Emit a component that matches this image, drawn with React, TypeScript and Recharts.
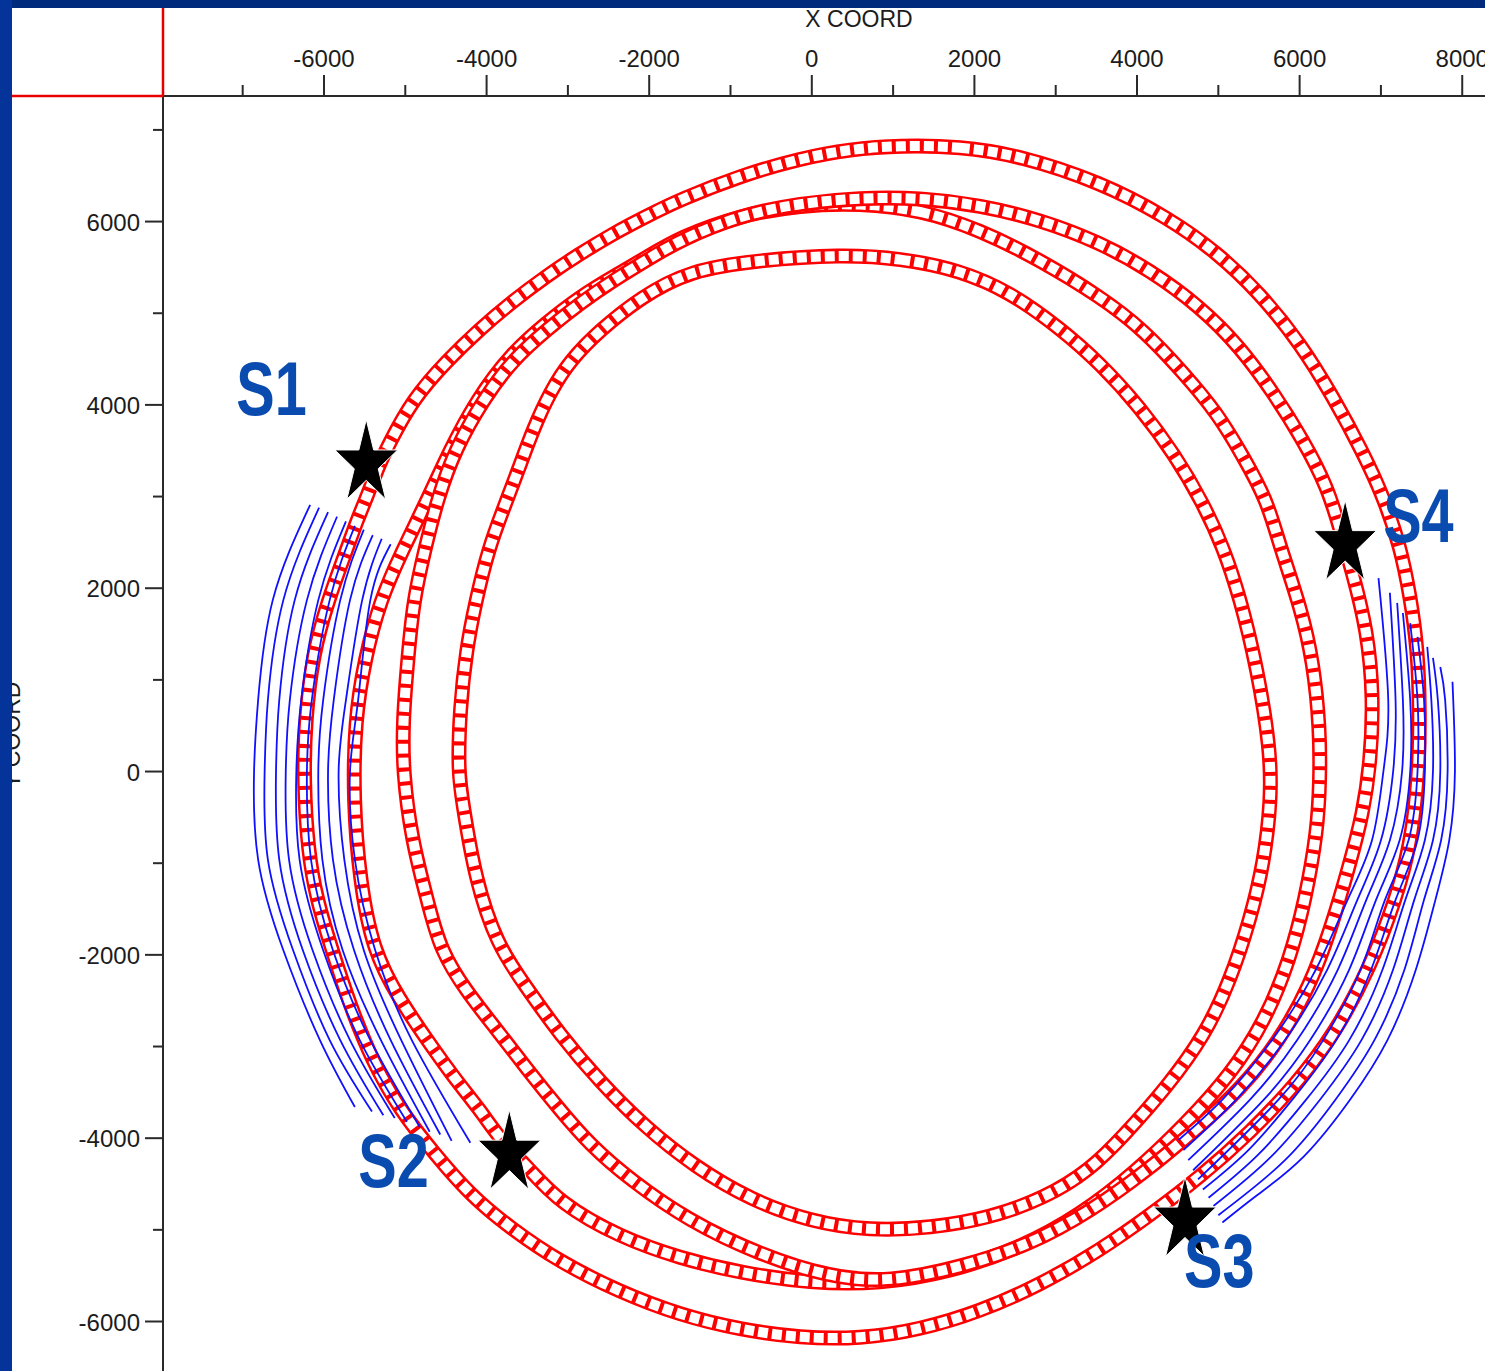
import React from "react";
import { ScatterChart, Scatter, XAxis, YAxis } from "recharts";

type Pt = [number, number];

const xTicks = [-7000, -6000, -5000, -4000, -3000, -2000, -1000, 0, 1000, 2000, 3000, 4000, 5000, 6000, 7000, 8000];
const yTicks = [-6000, -5000, -4000, -3000, -2000, -1000, 0, 1000, 2000, 3000, 4000, 5000, 6000, 7000];

// receiver rings (red squares), clockwise from the top
const outerRing: Pt[] = [
  [1090, 6830], [1820, 6820], [2560, 6720], [3550, 6430], [4370, 6050], [4990, 5660], [5520, 5210], [6010, 4670],
  [6410, 4090], [6780, 3480], [7030, 3000], [7240, 2450], [7360, 1910], [7450, 1360], [7480, 640], [7460, -90],
  [7360, -820], [7180, -1400], [6870, -2130], [6440, -2850], [5950, -3420], [5390, -3940], [4780, -4420], [4160, -4840],
  [3550, -5220], [2810, -5600], [2070, -5890], [1330, -6090], [590, -6190], [-140, -6180], [-880, -6090], [-1620, -5930],
  [-2360, -5680], [-3100, -5350], [-3710, -4980], [-4200, -4620], [-4630, -4180], [-5070, -3690], [-5410, -3150], [-5680, -2550],
  [-5900, -1950], [-6090, -1400], [-6200, -850], [-6250, -90], [-6230, 560], [-6140, 1270], [-5950, 1870], [-5720, 2420],
  [-5590, 2750], [-5470, 3000], [-5350, 3290], [-5210, 3560], [-4910, 4060], [-4490, 4480], [-4080, 4830], [-3680, 5130],
  [-3260, 5410], [-2850, 5650], [-2440, 5870], [-2030, 6060], [-1620, 6240], [-880, 6500], [-140, 6690], [470, 6790],
];

const westRing: Pt[] = [
  [590, 6200], [1330, 6130], [2070, 5910], [2810, 5580], [3550, 5180], [4080, 4820], [4570, 4350], [4990, 3910],
  [5310, 3430], [5600, 2960], [5760, 2450], [6010, 1800], [6170, 1190], [6250, 450], [6250, -90], [6220, -640],
  [6070, -1400], [5880, -2050], [5580, -2710], [5150, -3310], [4590, -3850], [3980, -4370], [3300, -4840], [2560, -5200],
  [1700, -5460], [840, -5590], [-20, -5580], [-880, -5470], [-1620, -5310], [-2360, -5080], [-3100, -4710], [-3500, -4310],
  [-3830, -4020], [-4080, -3690], [-4410, -3330], [-4730, -2930], [-5070, -2490], [-5400, -1950], [-5560, -1180], [-5640, -310],
  [-5620, 560], [-5500, 1220], [-5310, 1870], [-5030, 2420], [-4730, 2960], [-4450, 3510], [-4120, 4060], [-3700, 4560],
  [-3260, 4900], [-2850, 5180], [-2440, 5400], [-2030, 5610], [-1620, 5830], [-880, 6070], [-140, 6180],
];

const eastRing: Pt[] = [
  [590, 6260], [1330, 6260], [2070, 6180], [2810, 6020], [3550, 5770], [4160, 5470], [4780, 5070], [5270, 4630],
  [5680, 4130], [6040, 3620], [6340, 3110], [6500, 2640], [6650, 2170], [6830, 1550], [6910, 810], [6870, 90],
  [6780, -450], [6620, -1000], [6380, -1730], [6130, -2330], [5760, -2930], [5270, -3470], [4720, -3910], [4100, -4370],
  [3420, -4800], [2690, -5160], [1820, -5410], [960, -5570], [230, -5520], [-640, -5270], [-1500, -4910], [-2240, -4450],
  [-2730, -4070], [-3100, -3690], [-3500, -3250], [-3870, -2820], [-4240, -2410], [-4570, -1950], [-4730, -1400], [-4920, -750],
  [-5030, 0], [-5030, 560], [-4970, 1220], [-4900, 1870], [-4760, 2420], [-4610, 2960], [-4390, 3510], [-4040, 4060],
  [-3680, 4490], [-3260, 4820], [-2850, 5110], [-2440, 5360], [-2030, 5580], [-1620, 5800], [-880, 6070], [-140, 6200],
];

const innerRing: Pt[] = [
  [350, 5640], [1090, 5600], [1820, 5470], [2440, 5230], [3050, 4840], [3550, 4450], [4040, 3970], [4470, 3450],
  [4810, 2930], [5060, 2450], [5270, 1890], [5480, 1120], [5640, 240], [5650, -310], [5560, -1000], [5390, -1620],
  [5150, -2270], [4840, -2870], [4370, -3440], [3850, -3960], [3420, -4350], [2870, -4650], [2190, -4870], [1460, -4980],
  [720, -5010], [-20, -4910], [-760, -4670], [-1440, -4310], [-2050, -3880], [-2600, -3390], [-3100, -2870], [-3530, -2330],
  [-3870, -1890], [-4140, -1180], [-4300, -310], [-4350, 0], [-4330, 670], [-4250, 1330], [-4130, 1870], [-3980, 2420],
  [-3800, 2850], [-3610, 3290], [-3430, 3730], [-3220, 4140], [-2970, 4490], [-2600, 4820], [-2110, 5170], [-1500, 5470],
  [-640, 5580],
];

// ray arcs (blue), west group outer -> inner
const westArcs: Pt[][] = [
  [[-6170, 2910], [-6630, 1870], [-6810, 780], [-6860, 0], [-6810, -960], [-6500, -1950], [-6050, -2930], [-5620, -3660]],
  [[-6060, 2880], [-6500, 1870], [-6690, 780], [-6730, 0], [-6690, -960], [-6380, -1950], [-5930, -2930], [-5410, -3710]],
  [[-5950, 2830], [-6360, 1870], [-6550, 780], [-6590, 0], [-6550, -960], [-6260, -1950], [-5800, -2930], [-5270, -3750]],
  [[-5840, 2780], [-6210, 1870], [-6420, 780], [-6470, 0], [-6430, -960], [-6140, -1950], [-5680, -2930], [-5130, -3780]],
  [[-5730, 2730], [-6070, 1870], [-6280, 780], [-6340, 0], [-6300, -960], [-6010, -1950], [-5560, -2930], [-4980, -3820]],
  [[-5620, 2680], [-5930, 1870], [-6150, 780], [-6210, 0], [-6160, -960], [-5890, -1950], [-5430, -2930], [-4820, -3880]],
  [[-5510, 2640], [-5800, 1870], [-6010, 780], [-6070, 0], [-6020, -960], [-5770, -1950], [-5300, -2930], [-4700, -3930]],
  [[-5400, 2580], [-5680, 1870], [-5880, 780], [-5950, 0], [-5890, -960], [-5630, -1950], [-5180, -2930], [-4570, -3960]],
  [[-5290, 2540], [-5530, 1870], [-5730, 780], [-5820, 0], [-5750, -960], [-5510, -1950], [-5050, -2930], [-4430, -4030]],
  [[-5180, 2480], [-5430, 1870], [-5580, 780], [-5680, 0], [-5620, -960], [-5370, -1950], [-4920, -2930], [-4200, -4050]],
];

// east group inner -> outer
const eastArcs: Pt[][] = [
  [[6970, 2110], [7090, 780], [7030, 0], [6890, -750], [6590, -1400], [6200, -2160], [5660, -2930], [5050, -3580], [4510, -4020]],
  [[7110, 1950], [7180, 780], [7150, 0], [7000, -750], [6710, -1400], [6340, -2160], [5820, -2930], [5220, -3580], [4570, -4130]],
  [[7200, 1840], [7270, 780], [7260, 0], [7110, -750], [6820, -1400], [6470, -2160], [5970, -2930], [5390, -3580], [4630, -4240]],
  [[7270, 1730], [7360, 780], [7360, 0], [7230, -750], [6940, -1400], [6610, -2160], [6130, -2930], [5560, -3580], [4690, -4350]],
  [[7360, 1620], [7450, 780], [7450, 0], [7340, -750], [7050, -1400], [6750, -2160], [6290, -2930], [5740, -3580], [4750, -4450]],
  [[7450, 1470], [7530, 780], [7540, 0], [7450, -750], [7180, -1400], [6880, -2160], [6450, -2930], [5910, -3580], [5370, -4130], [4810, -4560]],
  [[7570, 1360], [7620, 780], [7640, 0], [7540, -750], [7300, -1400], [7020, -2160], [6610, -2930], [6080, -3580], [5490, -4180], [4880, -4650]],
  [[7640, 1240], [7700, 780], [7730, 0], [7640, -750], [7410, -1400], [7150, -2160], [6760, -2930], [6250, -3580], [5640, -4210], [4940, -4740]],
  [[7730, 1140], [7790, 780], [7820, 0], [7740, -750], [7530, -1400], [7290, -2160], [6920, -2930], [6440, -3580], [5820, -4240], [5000, -4840]],
  [[7880, 980], [7910, 0], [7840, -750], [7670, -1400], [7430, -2160], [7080, -2930], [6620, -3580], [6050, -4200], [5480, -4620], [5050, -4920]],
];

const stationNames = ["S1", "S2", "S3", "S4"];
const stationX = [-5480, -3720, 4590, 6560];
const stationY = [3360, -4170, -4900, 2480];

// label placement relative to the star, in pixels
const labelOffset: Record<string, [number, number]> = {
  S1: [-130, -49],
  S2: [-151, 33],
  S3: [-1, 66],
  S4: [38, -2],
};

const rows = (pts: Pt[]) => pts.map(([x, y]) => ({ x, y }));
const stations = stationNames.map((name, i) => ({ name, x: stationX[i], y: stationY[i] }));

const FONT = "'Liberation Sans', Arial, sans-serif";
const AXIS = "#2a2a2a";

const NoDot = () => <g />;

const XTick = (props: any) => {
  const { x, y, payload } = props;
  const v = payload.value;
  const major = v % 2000 === 0;
  return (
    <g>
      <line x1={x} y1={y} x2={x} y2={y - (major ? 21 : 11)} stroke={AXIS} strokeWidth={2} />
      {major && (
        <text x={x} y={y - 29} textAnchor="middle" fontFamily={FONT} fontSize={24} fill="#1c1c1c">
          {v}
        </text>
      )}
    </g>
  );
};

const YTick = (props: any) => {
  const { x, y, payload } = props;
  const v = payload.value;
  const major = v % 2000 === 0;
  return (
    <g>
      <line x1={x - (major ? 18 : 10)} y1={y} x2={x} y2={y} stroke={AXIS} strokeWidth={2} />
      {major && (
        <text x={x - 23} y={y} dy="0.38em" textAnchor="end" fontFamily={FONT} fontSize={24} fill="#1c1c1c">
          {v}
        </text>
      )}
    </g>
  );
};

const Star = (props: any) => {
  const { cx, cy, payload } = props;
  const pts: string[] = [];
  for (let k = 0; k < 10; k++) {
    const a = -Math.PI / 2 + (k * Math.PI) / 5;
    const r = k % 2 === 0 ? 1 : 0.382;
    pts.push(`${cx + 33 * r * Math.cos(a)},${cy + 44 * r * Math.sin(a)}`);
  }
  const [dx, dy] = labelOffset[payload.name];
  return (
    <g>
      <polygon points={pts.join(" ")} fill="#000" stroke="#fff" strokeWidth={1} />
      <text
        transform={`translate(${cx + dx},${cy + dy}) scale(0.9,1.2)`}
        fontFamily={FONT}
        fontWeight="bold"
        fontSize={64}
        fill="#0a4bb0"
      >
        {payload.name}
      </text>
    </g>
  );
};

const rings = [outerRing, westRing, eastRing, innerRing];

export default function App() {
  return (
    <div style={{ position: "absolute", left: 0, top: 0, width: 1485, height: 1371, background: "#fff", overflow: "hidden" }}>
      <div style={{ position: "absolute", left: 12, top: 8 }}>
        <ScatterChart width={1473} height={1363} margin={{ top: 0, right: 0, bottom: 0, left: 0 }}>
          <XAxis
            type="number"
            dataKey="x"
            orientation="top"
            domain={[-7980, 8280]}
            allowDataOverflow
            ticks={xTicks}
            interval={0}
            height={88}
            tickSize={0}
            tickMargin={0}
            tickLine={false}
            axisLine={{ stroke: AXIS, strokeWidth: 2 }}
            tick={<XTick />}
          />
          <YAxis
            type="number"
            dataKey="y"
            domain={[-6540, 7370]}
            allowDataOverflow
            ticks={yTicks}
            interval={0}
            width={151}
            tickSize={0}
            tickMargin={0}
            tickLine={false}
            axisLine={{ stroke: AXIS, strokeWidth: 2 }}
            tick={<YTick />}
          />
          {rings.flatMap((ring, i) => [
            <Scatter
              key={`ring-red-${i}`}
              data={rows(ring)}
              shape={NoDot}
              line={{ stroke: "#ff0000", strokeWidth: 15, strokeLinejoin: "round" }}
              lineJointType="basisClosed"
              isAnimationActive={false}
            />,
            <Scatter
              key={`ring-white-${i}`}
              data={rows(ring)}
              shape={NoDot}
              line={{ stroke: "#ffffff", strokeWidth: 10, strokeDasharray: "10 4" }}
              lineJointType="basisClosed"
              isAnimationActive={false}
            />,
          ])}
          {[...westArcs, ...eastArcs].map((arc, i) => (
            <Scatter
              key={`arc-${i}`}
              data={rows(arc)}
              shape={NoDot}
              line={{ stroke: "#1010ff", strokeWidth: 1.8 }}
              lineJointType="natural"
              isAnimationActive={false}
            />
          ))}
          <Scatter data={stations} shape={<Star />} isAnimationActive={false} />
        </ScatterChart>
      </div>
      <svg width={1485} height={1371} style={{ position: "absolute", left: 0, top: 0, pointerEvents: "none" }}>
        <text x={859} y={27} textAnchor="middle" fontFamily={FONT} fontSize={23} fill="#1c1c1c">
          X COORD
        </text>
        <text transform="translate(20,735) rotate(-90)" textAnchor="middle" fontFamily={FONT} fontSize={23} fill="#1c1c1c">
          Y COORD
        </text>
        <line x1={12} y1={96} x2={163} y2={96} stroke="#e60000" strokeWidth={2.5} />
        <line x1={163} y1={8} x2={163} y2={96} stroke="#e60000" strokeWidth={2.5} />
        <rect x={0} y={0} width={1485} height={8} fill="#002a7b" />
        <rect x={0} y={0} width={12} height={1371} fill="#04349a" />
      </svg>
    </div>
  );
}
